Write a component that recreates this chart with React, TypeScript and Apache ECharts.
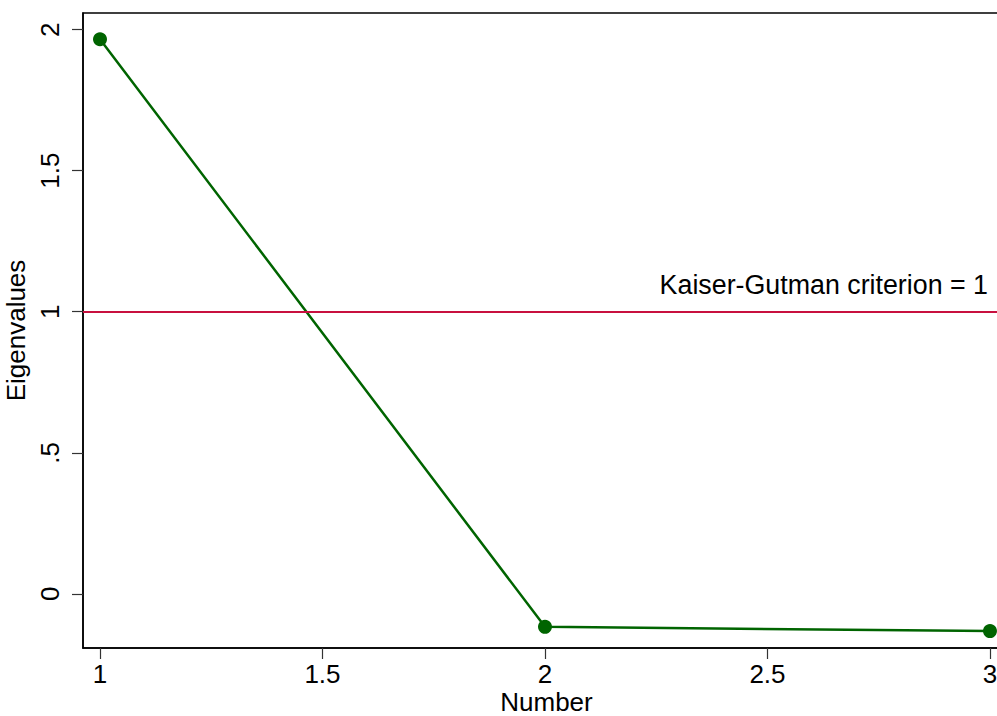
import React, { useEffect, useRef } from "react";
import * as echarts from "echarts";

// Scree plot: eigenvalue per component number
const componentNumbers = [1, 2, 3];
const eigenvalues = [1.966, -0.117, -0.132];
const kaiserCriterion = 1;
const xTickValues = [1, 1.5, 2, 2.5, 3];
const yTickValues = [0, 0.5, 1, 1.5, 2];
const yTickLabels = ["0", ".5", "1", "1.5", "2"];

const FONT = "'Liberation Sans', Arial, Helvetica, sans-serif";

export default function App() {
  const ref = useRef<HTMLDivElement>(null);

  useEffect(() => {
    document.body.style.margin = "0";
    if (!ref.current) return;
    const chart = echarts.init(ref.current, undefined, { renderer: "svg" });

    const points = componentNumbers.map((n, i) => [n, eigenvalues[i]]);

    chart.setOption({
      animation: false,
      backgroundColor: "#ffffff",
      textStyle: { fontFamily: FONT },
      grid: {
        left: 83,
        top: 13,
        right: -13,
        bottom: 68,
        containLabel: false,
        outerBoundsMode: "none",
        show: true,
        borderColor: "#000000",
        borderWidth: 1.5,
        backgroundColor: "#ffffff",
      },
      xAxis: {
        type: "value",
        min: 0.9618,
        max: 3.045,
        name: "Number",
        nameLocation: "middle",
        nameGap: 40.5,
        nameMoveOverlap: false,
        nameTextStyle: { fontSize: 26, lineHeight: 26, color: "#000", fontFamily: FONT },
        splitLine: { show: false },
        axisLine: { show: true, onZero: false, lineStyle: { color: "#000", width: 1.5 } },
        axisTick: {
          show: true,
          length: 11,
          customValues: xTickValues,
          lineStyle: { color: "#333", width: 1.2 },
        },
        axisLabel: {
          customValues: xTickValues,
          fontSize: 26,
          lineHeight: 26,
          color: "#000",
          margin: 13,
          hideOverlap: false,
          fontFamily: FONT,
          formatter: (v: number) => String(v),
        },
      },
      yAxis: {
        type: "value",
        min: -0.192,
        max: 2.059,
        name: "Eigenvalues",
        nameLocation: "middle",
        nameRotate: 90,
        nameGap: 51,
        nameTextStyle: { fontSize: 26, color: "#000", fontFamily: FONT },
        splitLine: { show: false },
        axisLine: { show: true, onZero: false, lineStyle: { color: "#000", width: 1.5 } },
        axisTick: {
          show: true,
          length: 11,
          customValues: yTickValues,
          lineStyle: { color: "#333", width: 1.2 },
        },
        axisLabel: {
          customValues: yTickValues,
          rotate: 90,
          fontSize: 26,
          color: "#000",
          margin: 20,
          fontFamily: FONT,
          formatter: (v: number) => {
            const idx = yTickValues.findIndex((t) => Math.abs(t - v) < 1e-9);
            return idx >= 0 ? yTickLabels[idx] : "";
          },
        },
      },
      series: [
        {
          type: "line",
          data: points,
          symbol: "circle",
          symbolSize: 14,
          clip: false,
          lineStyle: { color: "#006400", width: 2.5 },
          itemStyle: { color: "#006400" },
          markLine: {
            silent: true,
            symbol: "none",
            label: { show: false },
            lineStyle: { color: "#c8103f", width: 2, type: "solid" },
            data: [{ yAxis: kaiserCriterion }],
          },
          z: 3,
        },
      ],
      graphic: [
        {
          type: "text",
          right: 9,
          top: 271,
          style: {
            text: `Kaiser-Gutman criterion = ${kaiserCriterion}`,
            fontSize: 26.8,
            fill: "#000",
            fontFamily: FONT,
          },
          z: 10,
        },
      ],
    });

    return () => chart.dispose();
  }, []);

  return (
    <div
      ref={ref}
      style={{ position: "absolute", left: 0, top: 0, width: 997, height: 716 }}
    />
  );
}
